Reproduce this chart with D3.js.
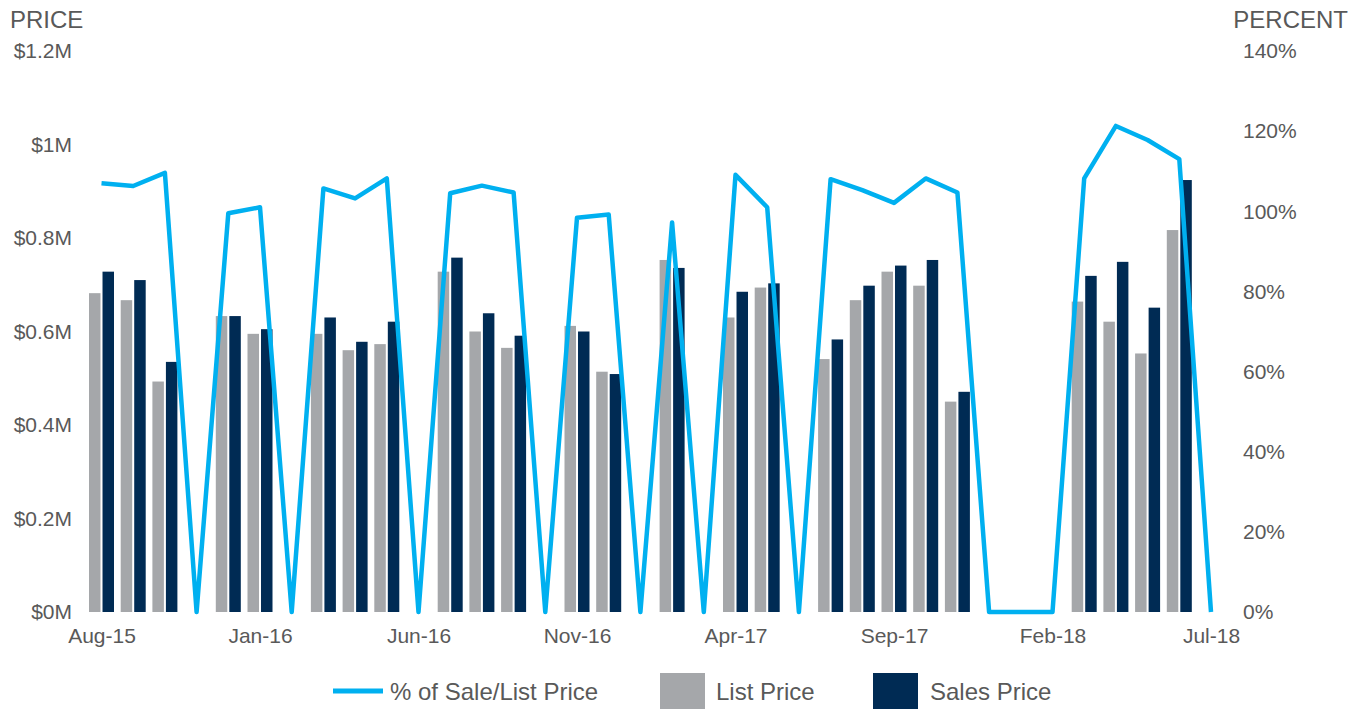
<!DOCTYPE html>
<html>
<head>
<meta charset="utf-8">
<script src="https://cdn.jsdelivr.net/npm/d3@7"></script>
<style>
  body { margin: 0; background: #fff; }
  svg text { font-family: "Liberation Sans", Arial, sans-serif; fill: #595959; }
</style>
</head>
<body>
<div id="chart"></div>
<script>
const months = ["Aug-15","Sep-15","Oct-15","Nov-15","Dec-15","Jan-16","Feb-16","Mar-16","Apr-16","May-16","Jun-16","Jul-16",
  "Aug-16","Sep-16","Oct-16","Nov-16","Dec-16","Jan-17","Feb-17","Mar-17","Apr-17","May-17","Jun-17","Jul-17",
  "Aug-17","Sep-17","Oct-17","Nov-17","Dec-17","Jan-18","Feb-18","Mar-18","Apr-18","May-18","Jun-18","Jul-18"];
// prices in $M, null = no sales that month
const listPrice = [0.682,0.667,0.493,null,0.633,0.595,null,0.595,0.560,0.573,null,0.728,
  0.600,0.565,null,0.612,0.514,null,0.753,null,0.630,0.694,null,0.541,
  0.667,0.728,0.698,0.450,null,null,null,0.664,0.621,0.553,0.817,null];
const salesPrice = [0.728,0.710,0.535,null,0.633,0.605,null,0.630,0.578,0.621,null,0.758,
  0.639,0.591,null,0.600,0.509,null,0.736,null,0.685,0.703,null,0.583,
  0.698,0.741,0.753,0.471,null,null,null,0.719,0.749,0.651,0.924,null];
// % of sale / list price
const pctSaleList = [107.0,106.3,109.6,0,99.5,101.0,0,105.7,103.2,108.2,0,104.5,
  106.4,104.7,0,98.4,99.2,0,97.2,0,109.1,101.0,0,108.0,
  105.3,102.1,108.2,104.7,0,0,0,108.2,121.3,117.8,113.0,0];
const priceTicks = [0,0.2,0.4,0.6,0.8,1,1.2];
const pctTicks = [0,20,40,60,80,100,120,140];

const width = 1364, height = 709;
const colLine = "#00b0f0", colList = "#a5a7aa", colSales = "#002b54";

const svg = d3.select("#chart").append("svg")
  .attr("width", width).attr("height", height);

const x = d3.scalePoint().domain(months).range([101.5, 1211]);
const xs = d3.scaleBand().domain(["list","sales"]).range([-12.5, 12.5]).paddingInner(0.15);
const yL = d3.scaleLinear().domain([0, 1.2]).range([612, 51]);
const yR = d3.scaleLinear().domain([0, 140]).range([612, 51]);

const rows = months.map((m, i) => ({ m, list: listPrice[i], sales: salesPrice[i], pct: pctSaleList[i] }));

// bars
svg.append("g").selectAll("rect")
  .data(rows.filter(d => d.list != null))
  .join("rect")
  .attr("x", d => x(d.m) + xs("list"))
  .attr("y", d => yL(d.list))
  .attr("width", xs.bandwidth())
  .attr("height", d => yL(0) - yL(d.list))
  .attr("fill", colList);

svg.append("g").selectAll("rect")
  .data(rows.filter(d => d.sales != null))
  .join("rect")
  .attr("x", d => x(d.m) + xs("sales"))
  .attr("y", d => yL(d.sales))
  .attr("width", xs.bandwidth())
  .attr("height", d => yL(0) - yL(d.sales))
  .attr("fill", colSales);

// line
const line = d3.line().x(d => x(d.m)).y(d => yR(d.pct));
svg.append("path")
  .datum(rows)
  .attr("fill", "none")
  .attr("stroke", colLine)
  .attr("stroke-width", 4.5)
  .attr("stroke-linejoin", "round")
  .attr("d", line);

// axes
const axL = svg.append("g").attr("transform", "translate(72,0)")
  .call(d3.axisLeft(yL).tickValues(priceTicks).tickSize(0).tickPadding(0)
    .tickFormat(d => "$" + d3.format("~g")(d) + "M"));
const axR = svg.append("g").attr("transform", "translate(1243,0)")
  .call(d3.axisRight(yR).tickValues(pctTicks).tickSize(0).tickPadding(0)
    .tickFormat(d => d + "%"));
const axB = svg.append("g").attr("transform", "translate(0,627)")
  .call(d3.axisBottom(x).tickValues(months.filter((m, i) => i % 5 === 0)).tickSize(0).tickPadding(0));

[axL, axR, axB].forEach(a => {
  a.select(".domain").remove();
  a.selectAll("text").attr("font-size", 21).style("font-family", null).attr("font-family", null).attr("fill", "#595959");
});
axB.selectAll("text").attr("dy", "0.75em");

// axis titles
svg.append("text").attr("x", 10).attr("y", 28).attr("font-size", 24).text("PRICE");
svg.append("text").attr("x", 1348).attr("y", 28).attr("font-size", 24)
  .attr("text-anchor", "end").text("PERCENT");

// legend
const leg = svg.append("g");
leg.append("line").attr("x1", 333).attr("x2", 383).attr("y1", 691).attr("y2", 691)
  .attr("stroke", colLine).attr("stroke-width", 5);
leg.append("text").attr("x", 390).attr("y", 700).attr("font-size", 24).text("% of Sale/List Price");
leg.append("rect").attr("x", 660).attr("y", 673).attr("width", 45).attr("height", 40).attr("fill", colList);
leg.append("text").attr("x", 716).attr("y", 700).attr("font-size", 24).text("List Price");
leg.append("rect").attr("x", 873).attr("y", 673).attr("width", 45).attr("height", 40).attr("fill", colSales);
leg.append("text").attr("x", 930).attr("y", 700).attr("font-size", 24).text("Sales Price");
</script>
</body>
</html>
